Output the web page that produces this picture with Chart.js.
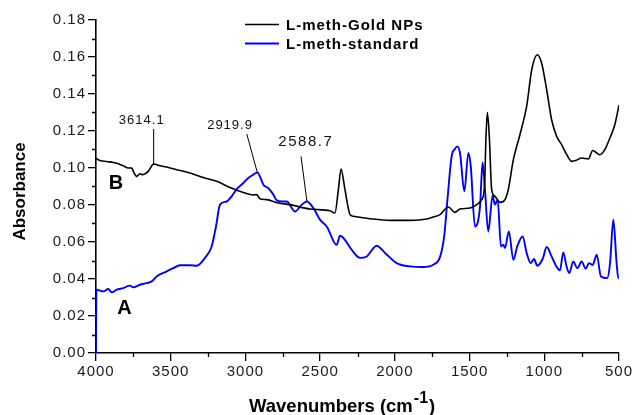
<!DOCTYPE html>
<html>
<head>
<meta charset="utf-8">
<script src="https://cdn.jsdelivr.net/npm/chart.js@4/dist/chart.umd.min.js"></script>
<style>
  html, body { margin: 0; padding: 0; background: #fff; }
  #wrap { width: 634px; height: 415px; position: relative; }
</style>
</head>
<body>
<div id="wrap"><canvas id="c"></canvas></div>
<script>
// FTIR spectra: [wavenumber (cm-1), absorbance]
const goldNPs = [
  [4000,0.1055],[3995,0.1049],[3973,0.1041],[3930,0.1035],[3884,0.1030],[3851,0.1023],
  [3817,0.1012],[3784,0.1000],[3761,0.1000],[3750,0.0982],[3728,0.0955],[3706,0.0969],
  [3688,0.0964],[3672,0.0969],[3650,0.0982],[3614.1,0.1022],[3572,0.1012],[3527,0.1005],
  [3460,0.0991],[3371,0.0973],[3282,0.0949],[3192,0.0928],[3103,0.0895],[3014,0.0868],
  [2947,0.0854],[2925,0.0856],[2903,0.0834],[2858,0.0829],[2780,0.0811],[2702,0.0802],
  [2568,0.0778],[2434,0.0769],[2401,0.0757],[2378,0.0883],[2360,0.0995],[2334,0.0883],
  [2300,0.0748],[2278,0.0739],[2166,0.0726],[2033,0.0717],[1899,0.0717],[1787,0.0724],
  [1743,0.0735],[1698,0.0748],[1642,0.0789],[1598,0.0760],[1564,0.0778],[1497,0.0784],
  [1452,0.0802],[1419,0.0829],[1400,0.0900],[1390,0.1171],[1381,0.1300],[1368,0.1171],
  [1352,0.0883],[1330,0.0847],[1296,0.0814],[1263,0.0829],[1241,0.0883],[1207,0.1045],
  [1163,0.1180],[1118,0.1333],[1084,0.1531],[1047,0.1612],[1018,0.1568],[984,0.1423],
  [951,0.1261],[917,0.1171],[884,0.1126],[850,0.1072],[817,0.1036],[790,0.1040],
  [750,0.1054],[705,0.1049],[676,0.1095],[628,0.1072],[595,0.1099],[561,0.1162],
  [528,0.1234],[500,0.1340]
];

const standard = [
  [4000,0.0000],[3998,0.0340],[3995,0.0342],[3951,0.0333],[3918,0.0346],[3895,0.0328],
  [3862,0.0342],[3817,0.0351],[3773,0.0364],[3750,0.0355],[3706,0.0369],[3661,0.0378],
  [3627,0.0387],[3594,0.0414],[3527,0.0441],[3483,0.0459],[3438,0.0474],[3371,0.0474],
  [3326,0.0472],[3271,0.0514],[3226,0.0576],[3197,0.0684],[3170,0.0802],[3125,0.0819],
  [3092,0.0847],[3058,0.0886],[3014,0.0919],[2981,0.0946],[2947,0.0964],[2919.9,0.0976],
  [2903,0.0955],[2880,0.0910],[2847,0.0892],[2813,0.0856],[2790,0.0825],[2757,0.0819],
  [2724,0.0819],[2668,0.0765],[2623,0.0802],[2588.7,0.0819],[2546,0.0784],[2501,0.0721],
  [2456,0.0684],[2389,0.0585],[2367,0.0634],[2334,0.0612],[2289,0.0558],[2233,0.0514],
  [2188,0.0522],[2122,0.0580],[2066,0.0541],[1988,0.0486],[1899,0.0468],[1810,0.0465],
  [1743,0.0477],[1698,0.0518],[1670,0.0630],[1648,0.0830],[1620,0.1063],[1598,0.1103],
  [1582,0.1117],[1564,0.1081],[1535,0.0874],[1508,0.1081],[1492,0.1009],[1464,0.0684],
  [1430,0.0793],[1413,0.1030],[1397,0.0883],[1375,0.0657],[1346,0.0850],[1330,0.0802],
  [1312,0.0829],[1290,0.0576],[1274,0.0585],[1263,0.0568],[1237,0.0657],[1207,0.0504],
  [1181,0.0576],[1145,0.0630],[1118,0.0541],[1091,0.0486],[1069,0.0508],[1047,0.0472],
  [1011,0.0508],[984,0.0573],[951,0.0522],[922,0.0472],[895,0.0447],[873,0.0544],
  [850,0.0465],[833,0.0432],[806,0.0495],[779,0.0459],[750,0.0495],[723,0.0456],
  [701,0.0486],[676,0.0476],[649,0.0531],[621,0.0414],[579,0.0405],[560,0.0486],
  [538,0.0720],[516,0.0486],[505,0.0405],[500,0.0411]
];

const seriesNames = ['L-meth-Gold NPs', 'L-meth-standard'];
const seriesColors = ['#000000', '#0000ff'];

// axis ranges and tick spacing
const xRange = [500, 4000];
const xMajorStep = 500;
const yRange = [0, 0.18];
const yMajorStep = 0.02;

// peak positions called out on the plot (cm-1)
const peakWavenumbers = [3614.1, 2919.9, 2588.7];

const FONT = "'Liberation Sans', Arial, Helvetica, sans-serif";

// where each peak label sits, in data units
const calloutLayout = [
  { tipY: 0.1020, top: [3614.1, 0.1211], text: [3694, 0.1239], size: 13, spacing: 1 },
  { tipY: 0.0974, top: [2991, 0.1184],   text: [3103, 0.1211], size: 13, spacing: 1 },
  { tipY: 0.0821, top: [2628, 0.1063],   text: [2596, 0.1117], size: 15, spacing: 1.5 }
];
const curveTags = [
  { text: 'B', at: [3867, 0.0886] },
  { text: 'A', at: [3809, 0.0211] }
];

const toPoints = arr => arr.map(([x, y]) => ({ x, y }));

const decorations = {
  id: 'decorations',
  beforeDraw(chart) {
    chart.ctx.letterSpacing = '1px';
  },
  afterDraw(chart) {
    const ctx = chart.ctx;
    const xs = chart.scales.x, ys = chart.scales.y;
    const area = chart.chartArea;

    // minor ticks halfway between labelled ticks
    ctx.save();
    ctx.strokeStyle = '#000';
    ctx.lineWidth = 1.3;
    ctx.beginPath();
    for (let v = yRange[0] + yMajorStep / 2; v < yRange[1]; v += yMajorStep) {
      const py = Math.round(ys.getPixelForValue(v)) + 0.5;
      ctx.moveTo(area.left - 4, py); ctx.lineTo(area.left, py);
    }
    for (let v = xRange[0] + xMajorStep / 2; v < xRange[1]; v += xMajorStep) {
      const px = Math.round(xs.getPixelForValue(v)) + 0.5;
      ctx.moveTo(px, area.bottom); ctx.lineTo(px, area.bottom + 4);
    }
    ctx.stroke();
    ctx.restore();

    // peak callouts
    ctx.save();
    ctx.fillStyle = '#111';
    ctx.strokeStyle = '#000';
    ctx.lineWidth = 1;
    ctx.textAlign = 'center';
    ctx.textBaseline = 'alphabetic';
    peakWavenumbers.forEach((wn, i) => {
      const c = calloutLayout[i];
      ctx.beginPath();
      ctx.moveTo(xs.getPixelForValue(c.top[0]), ys.getPixelForValue(c.top[1]));
      ctx.lineTo(xs.getPixelForValue(wn), ys.getPixelForValue(c.tipY));
      ctx.stroke();
      ctx.letterSpacing = c.spacing + 'px';
      ctx.font = `${c.size}px ${FONT}`;
      ctx.fillText(wn.toFixed(1), xs.getPixelForValue(c.text[0]), ys.getPixelForValue(c.text[1]));
    });

    // curve tags
    ctx.letterSpacing = '0px';
    ctx.fillStyle = '#000';
    ctx.font = `bold 20px ${FONT}`;
    curveTags.forEach(t => {
      ctx.fillText(t.text, xs.getPixelForValue(t.at[0]), ys.getPixelForValue(t.at[1]));
    });
    ctx.restore();

    // legend
    ctx.save();
    ctx.letterSpacing = '1px';
    ctx.font = `bold 15px ${FONT}`;
    ctx.textAlign = 'left';
    ctx.textBaseline = 'alphabetic';
    chart.data.datasets.forEach((ds, i) => {
      const rowY = 24.5 + i * 19;
      ctx.strokeStyle = ds.borderColor;
      ctx.lineWidth = ds.borderWidth;
      ctx.beginPath();
      ctx.moveTo(245, rowY); ctx.lineTo(279, rowY);
      ctx.stroke();
      ctx.fillStyle = '#000';
      ctx.fillText(ds.label, 286, rowY + 5.5);
    });
    ctx.restore();

    // axis titles
    ctx.save();
    ctx.letterSpacing = '0px';
    ctx.fillStyle = '#000';
    ctx.textBaseline = 'alphabetic';
    ctx.font = `bold 17px ${FONT}`;
    ctx.translate(25, (area.top + area.bottom) / 2 + 5);
    ctx.rotate(-Math.PI / 2);
    ctx.textAlign = 'center';
    ctx.fillText('Absorbance', 0, 0);
    ctx.restore();

    ctx.save();
    ctx.letterSpacing = '0px';
    ctx.fillStyle = '#000';
    ctx.textBaseline = 'alphabetic';
    ctx.textAlign = 'left';
    const main = 'Wavenumbers (cm', sup = '-1', close = ')';
    ctx.font = `bold 18.5px ${FONT}`;
    const w1 = ctx.measureText(main).width;
    ctx.font = `bold 16px ${FONT}`;
    const w2 = ctx.measureText(sup).width;
    const x0 = 249;
    const base = 412;
    ctx.font = `bold 18.5px ${FONT}`;
    ctx.fillText(main, x0, base);
    ctx.font = `bold 16px ${FONT}`;
    ctx.fillText(sup, x0 + w1 + 1, base - 9);
    ctx.font = `bold 18.5px ${FONT}`;
    ctx.fillText(close, x0 + w1 + w2 + 2, base);
    ctx.restore();
  }
};

new Chart(document.getElementById('c'), {
  type: 'line',
  data: {
    datasets: [
      { label: seriesNames[0], data: toPoints(goldNPs), borderColor: seriesColors[0], borderWidth: 1.6 },
      { label: seriesNames[1], data: toPoints(standard), borderColor: seriesColors[1], borderWidth: 1.9 }
    ]
  },
  options: {
    responsive: true,
    maintainAspectRatio: false,
    animation: false,
    events: [],
    layout: { padding: { top: 20, right: 15, left: 0, bottom: 0 } },
    elements: {
      point: { radius: 0 },
      line: { cubicInterpolationMode: 'monotone', fill: false }
    },
    plugins: { legend: { display: false }, tooltip: { enabled: false } },
    scales: {
      x: {
        type: 'linear',
        reverse: true,
        min: xRange[0], max: xRange[1],
        afterFit: s => { s.height = 62; },
        border: { display: true, color: '#000', width: 1.6 },
        grid: { drawOnChartArea: false, drawTicks: true, tickLength: 8, color: '#000', lineWidth: 1.3 },
        ticks: {
          stepSize: xMajorStep, padding: 2, color: '#1a1a1a',
          font: { family: FONT, size: 15 },
          maxRotation: 0, autoSkip: false,
          callback: v => String(v)
        }
      },
      y: {
        type: 'linear',
        min: yRange[0], max: yRange[1],
        afterFit: s => { s.width = 96; },
        border: { display: true, color: '#000', width: 1.6 },
        grid: { drawOnChartArea: false, drawTicks: true, tickLength: 8, color: '#000', lineWidth: 1.3 },
        ticks: {
          stepSize: yMajorStep, padding: 2, color: '#1a1a1a',
          font: { family: FONT, size: 15 },
          callback: v => v.toFixed(2)
        }
      }
    }
  },
  plugins: [decorations]
});
</script>
</body>
</html>
